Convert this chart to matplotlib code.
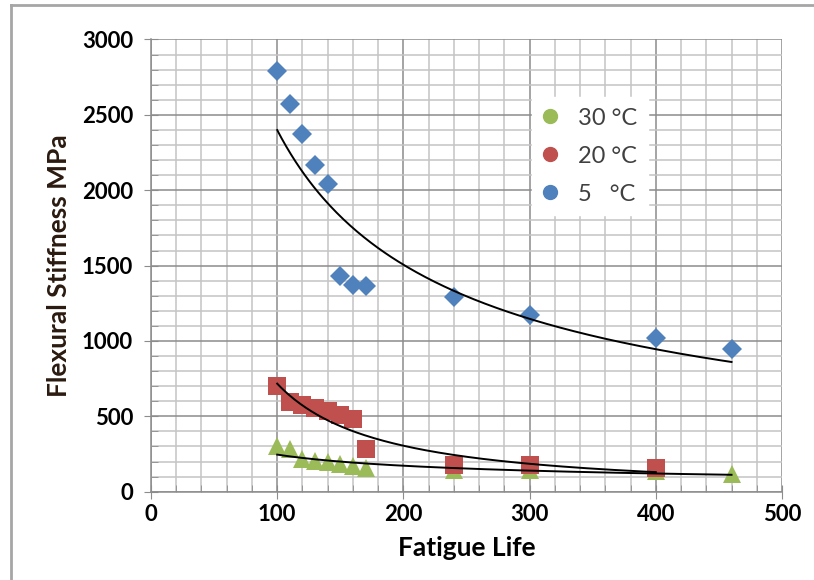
import matplotlib.pyplot as plt
from matplotlib.lines import Line2D
import numpy as np

plt.rcParams['font.family'] = ['Lato', 'DejaVu Sans']

# data
life_5 = [100, 110, 120, 130, 140, 150, 160, 170, 240, 300, 400, 460]
stiff_5 = [2790, 2570, 2370, 2170, 2040, 1430, 1370, 1365, 1290, 1170, 1020, 950]

life_20 = [100, 110, 120, 130, 140, 150, 160, 170, 240, 300, 400]
stiff_20 = [700, 595, 575, 555, 535, 510, 485, 285, 175, 175, 160]

life_30 = [100, 110, 120, 130, 140, 150, 160, 170, 240, 300, 400, 460]
stiff_30 = [305, 283, 215, 205, 198, 185, 170, 155, 145, 145, 140, 115]

labels = ['30 °C', '20 °C', '5   °C']
c_blue = '#4F81BD'
c_red = '#C0504D'
c_green = '#9BBB59'


def power_fit(x, y):
    # excel style power trendline: ln y = b ln x + ln a
    b, la = np.polyfit(np.log(x), np.log(y), 1)
    xx = np.linspace(min(x), max(x), 200)
    return xx, np.exp(la) * xx ** b


fig = plt.figure(figsize=(8.14, 5.8), dpi=100)
ax = fig.add_axes([0.1855, 0.1522, 0.7752, 0.7798])

ax.plot(life_30, stiff_30, '^', color=c_green, markersize=13, markeredgewidth=0, zorder=3)
ax.plot(life_20, stiff_20, 's', color=c_red, markersize=13.5, markeredgewidth=0, zorder=3)
ax.plot(life_5, stiff_5, 'D', color=c_blue, markersize=10, markeredgewidth=0, zorder=3)

for x, y in [(life_5, stiff_5), (life_20, stiff_20), (life_30, stiff_30)]:
    xx, yy = power_fit(x, y)
    ax.plot(xx, yy, color='black', linewidth=1.4, zorder=4)

ax.set_xlim(0, 500)
ax.set_ylim(0, 3000)
ax.set_xticks(np.arange(0, 501, 100))
ax.set_yticks(np.arange(0, 3001, 500))
ax.set_xticks(np.arange(0, 501, 20), minor=True)
ax.set_yticks(np.arange(0, 3001, 100), minor=True)
ax.grid(which='major', color='#8c8c8c', linewidth=1.1)
ax.grid(which='minor', color='#c4c4c4', linewidth=1.1)
ax.set_axisbelow(True)

for s in ['top', 'right']:
    ax.spines[s].set_visible(False)
for s in ['left', 'bottom']:
    ax.spines[s].set_color('#8c8c8c')
    ax.spines[s].set_linewidth(1.1)

ax.tick_params(which='major', direction='inout', length=10, color='#8c8c8c',
               labelsize=16, pad=4)
ax.tick_params(which='minor', direction='in', length=5, color='#8c8c8c')
ax.tick_params(axis='y', which='major', pad=8)
for t in ax.get_xticklabels() + ax.get_yticklabels():
    t.set_fontweight('bold')

ax.set_xlabel('Fatigue Life', fontsize=19, fontweight='bold', labelpad=8)
ax.set_ylabel('Flexural Stiffness MPa', fontsize=19, fontweight='bold', labelpad=8,
              color='#2a1a10')

handles = [Line2D([], [], marker='o', linestyle='', color=c, markersize=10)
           for c in [c_green, c_red, c_blue]]
leg = ax.legend(handles, labels, loc='upper left', bbox_to_anchor=(0.604, 0.873),
                borderaxespad=0, frameon=True, fancybox=False, edgecolor='white',
                framealpha=1, fontsize=17, labelspacing=0.72, handletextpad=0.9,
                borderpad=0.45, handlelength=0.6)
for t in leg.get_texts():
    t.set_color('#404040')

# outer chart border (only left and top visible in the reference)
fig.add_artist(Line2D([0.013, 0.013], [0.0, 0.992], transform=fig.transFigure,
                      color='#a6a6a6', linewidth=2))
fig.add_artist(Line2D([0.013, 1.0], [0.992, 0.992], transform=fig.transFigure,
                      color='#a6a6a6', linewidth=2))

fig.savefig('out.png', dpi=100)
